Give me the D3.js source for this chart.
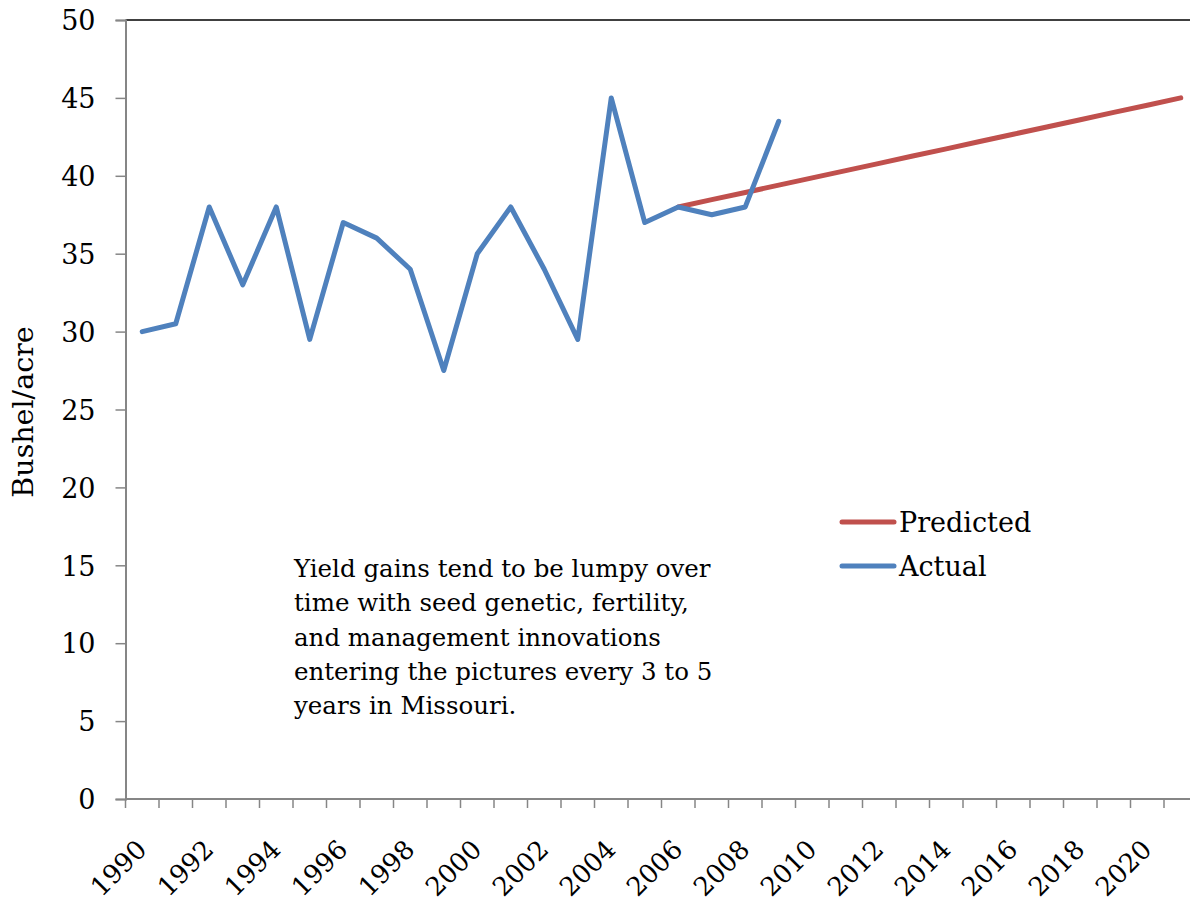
<!DOCTYPE html>
<html>
<head>
<meta charset="utf-8">
<script src="https://cdn.jsdelivr.net/npm/d3@7"></script>
<style>
	body { margin: 0; background: white; }
	svg text { font-family: "DejaVu Serif", serif; fill: black; }
</style>
</head>
<body>
<svg id="chart" width="1190" height="903"></svg>
<script>
// years on the x axis (every other one gets a label)
var years = d3.range(1990, 2022);
var yTicks = [0, 5, 10, 15, 20, 25, 30, 35, 40, 45, 50];

var actualYears = [1990, 1991, 1992, 1993, 1994, 1995, 1996, 1997, 1998, 1999,
	2000, 2001, 2002, 2003, 2004, 2005, 2006, 2007, 2008, 2009];
var actualVals = [30, 30.5, 38, 33, 38, 29.5, 37, 36, 34, 27.5,
	35, 38, 34, 29.5, 45, 37, 38, 37.5, 38, 43.5];

var predYears = [2006, 2007, 2008, 2009, 2010, 2011, 2012, 2013, 2014, 2015,
	2016, 2017, 2018, 2019, 2020, 2021];
var predVals = [38, 38.47, 38.93, 39.4, 39.87, 40.33, 40.8, 41.27, 41.73, 42.2,
	42.67, 43.13, 43.6, 44.07, 44.53, 45];

var note = ["Yield gains tend to be lumpy over",
	"time with seed genetic, fertility,",
	"and management innovations",
	"entering the pictures every 3 to 5",
	"years in Missouri."];

function drawChart() {
	var svg = d3.select("#chart");
	var margin = { top: 20, left: 125.5 };
	var bandW = 33.5;
	var width = years.length * bandW,
		height = 779;

	var x = d3.scaleBand().domain(years).range([0, width]);
	var y = d3.scaleLinear().domain([0, 50]).range([height, 0]);

	var g = svg.append("g")
		.attr("transform", "translate(" + margin.left + "," + margin.top + ")");

	// top border of plot
	g.append("line")
		.attr("x1", 0).attr("x2", width)
		.attr("y1", 0).attr("y2", 0)
		.attr("stroke", "black").attr("stroke-width", 1.5);

	var yAxis = d3.axisLeft(y).tickValues(yTicks).tickSize(10).tickPadding(20);
	var gy = g.append("g").call(yAxis);
	gy.select(".domain").attr("stroke", "#868686").attr("stroke-width", 2);
	gy.selectAll(".tick line").attr("stroke", "#868686").attr("stroke-width", 1.5);
	gy.selectAll("text").attr("font-size", 27).attr("fill", "black")
		.attr("font-family", "DejaVu Serif").attr("dy", "0.36em");

	var gx = g.append("g").attr("transform", "translate(0," + height + ")");
	gx.append("line")
		.attr("x1", 0).attr("x2", width)
		.attr("stroke", "#868686").attr("stroke-width", 2);
	gx.selectAll(".xtick").data(d3.range(years.length + 1))
		.enter().append("line")
		.attr("x1", function(i) { return i * x.step(); })
		.attr("x2", function(i) { return i * x.step(); })
		.attr("y1", 0).attr("y2", 9)
		.attr("stroke", "#868686").attr("stroke-width", 1.5);
	gx.selectAll(".xlab").data(years.filter(function(d) { return d % 2 == 0; }))
		.enter().append("text")
		.attr("transform", function(d) {
			return "translate(" + (x(d) + x.bandwidth() / 2 + 6) + ",52) rotate(-45)";
		})
		.attr("text-anchor", "end")
		.attr("font-size", 26)
		.text(function(d) { return d; });

	svg.append("text")
		.attr("transform", "translate(33,412) rotate(-90)")
		.attr("text-anchor", "middle")
		.attr("font-size", 28.5)
		.text("Bushel/acre");

	var line = d3.line()
		.x(function(d) { return x(d[0]) + x.bandwidth() / 2; })
		.y(function(d) { return y(d[1]); });

	g.append("path")
		.datum(d3.zip(predYears, predVals))
		.attr("d", line)
		.attr("fill", "none").attr("stroke", "#C0504D")
		.attr("stroke-width", 5).attr("stroke-linecap", "round").attr("stroke-linejoin", "round");
	g.append("path")
		.datum(d3.zip(actualYears, actualVals))
		.attr("d", line)
		.attr("fill", "none").attr("stroke", "#4F81BD")
		.attr("stroke-width", 5).attr("stroke-linecap", "round").attr("stroke-linejoin", "round");

	// legend
	var legend = [["Predicted", "#C0504D"], ["Actual", "#4F81BD"]];
	var lg = svg.append("g").attr("transform", "translate(842,522)");
	lg.selectAll("line").data(legend).enter().append("line")
		.attr("x1", 0).attr("x2", 52)
		.attr("y1", function(d, i) { return i * 44; })
		.attr("y2", function(d, i) { return i * 44; })
		.attr("stroke", function(d) { return d[1]; })
		.attr("stroke-width", 5).attr("stroke-linecap", "round");
	lg.selectAll("text").data(legend).enter().append("text")
		.attr("x", 57)
		.attr("y", function(d, i) { return i * 44; })
		.attr("dy", "0.36em")
		.attr("font-size", 27)
		.text(function(d) { return d[0]; });

	var tb = svg.append("text").attr("x", 294).attr("y", 577).attr("font-size", 24.5);
	tb.selectAll("tspan").data(note).enter().append("tspan")
		.attr("x", 294)
		.attr("dy", function(d, i) { return i == 0 ? 0 : 34.3; })
		.text(function(d) { return d; });
}

drawChart();
</script>
</body>
</html>
